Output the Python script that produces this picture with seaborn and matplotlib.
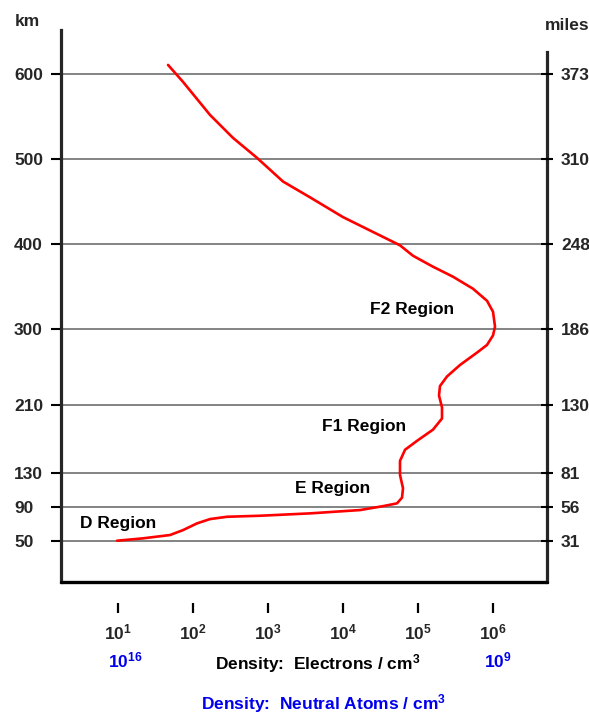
import numpy as np
import pandas as pd
import matplotlib
matplotlib.use("Agg")
import matplotlib.pyplot as plt
import matplotlib.transforms as mtransforms
import seaborn as sns

# Electron density profile of the ionosphere: log10(electrons / cm^3) against altitude (km)
log_density = [0.987, 1.333, 1.693, 1.867, 2.053, 2.227, 2.453, 2.893, 3.56, 4.227,
               4.533, 4.72, 4.787, 4.8, 4.76, 4.76, 4.827, 4.987, 5.2, 5.32, 5.32,
               5.28, 5.293, 5.387, 5.56, 5.787, 5.92, 6.0, 6.027, 6.0, 5.92, 5.733,
               5.467, 5.2, 4.933, 4.76, 4.453, 4.0, 3.56, 3.2, 2.853, 2.533, 2.227,
               1.867, 1.667]
altitude_km = [50.4, 53.2, 57.1, 62.9, 70.8, 75.9, 78.6, 79.8, 82.6, 86.5, 91.1, 94.4,
               101.1, 112.2, 127.8, 144.4, 157.5, 168.0, 181.2, 194.3, 207.4, 221.3,
               232.5, 243.8, 257.3, 271.9, 280.9, 292.1, 302.4, 320.0, 332.9, 347.1,
               361.2, 373.0, 385.9, 398.2, 411.6, 431.4, 454.7, 473.3, 501.2, 524.7,
               551.7, 590.6, 610.6]

km_ticks = [50, 90, 130, 210, 300, 400, 500, 600]
mile_labels = ["31", "56", "81", "130", "186", "248", "310", "373"]
x_ticks = [1e1, 1e2, 1e3, 1e4, 1e5, 1e6]
x_labels = [r"$\mathbf{10^{1}}$", r"$\mathbf{10^{2}}$", r"$\mathbf{10^{3}}$",
            r"$\mathbf{10^{4}}$", r"$\mathbf{10^{5}}$", r"$\mathbf{10^{6}}$"]

regions = ["D Region", "E Region", "F1 Region", "F2 Region"]
region_logx = [0.493, 3.36, 3.72, 4.36]
region_km = [71.2, 112.2, 185.1, 322.3]

sns.set_style("white")
family = "Liberation Sans"
plt.rcParams["font.family"] = [family, "DejaVu Sans"]
plt.rcParams["font.weight"] = "bold"
plt.rcParams["mathtext.fontset"] = "custom"
plt.rcParams["mathtext.rm"] = family + ":bold"
plt.rcParams["mathtext.bf"] = family + ":bold"
plt.rcParams["mathtext.it"] = family + ":bold"
fs = 12.5

fig = plt.figure(figsize=(5.89, 7.19), dpi=100)
ax = fig.add_axes([61/589, 1 - 582/719, (547-61)/589, (582-30)/719])

df = pd.DataFrame({"density": np.power(10.0, log_density), "altitude": altitude_km})
sns.lineplot(data=df, x="density", y="altitude", sort=False, estimator=None,
             color="#ff0000", linewidth=1.9, ax=ax, zorder=5)
for ln in ax.get_lines():
    ln.set_solid_joinstyle("round")
    ln.set_solid_capstyle("round")

ax.set_xscale("log")
ax.set_xlim(10**0.24, 10**6.72)
ax.set_ylim(1.8, 651.7)
ax.set_xlabel("")
ax.set_ylabel("")

for k in km_ticks:
    ax.axhline(k, color="#7a7a7a", linewidth=1.3, zorder=1)

# frame: thick left and right spines, no top, bottom edge drawn as a line
ax.spines["top"].set_visible(False)
ax.spines["left"].set_linewidth(2.3)
ax.spines["right"].set_linewidth(2.3)
ax.spines["right"].set_bounds(1.8, 625.9)
ax.spines["bottom"].set_position(("outward", 15))
ax.spines["bottom"].set_visible(False)
ax.axhline(1.8, color="black", linewidth=2.4, clip_on=False, zorder=6)

ax.set_xticks(x_ticks)
ax.set_xticklabels(x_labels)
ax.xaxis.set_minor_locator(matplotlib.ticker.NullLocator())
ax.tick_params(axis="x", bottom=True, direction="out", length=7.2, width=1.6,
               color="black", pad=7, labelsize=fs)

ax.set_yticks(km_ticks)
ax.set_yticklabels([str(k) for k in km_ticks])
ax.tick_params(axis="y", direction="out", length=7.2, width=1.5, color="black",
               pad=26.6, labelsize=fs, left=True)
for lab in ax.get_yticklabels():
    lab.set_horizontalalignment("left")

axr = ax.twinx()
axr.set_ylim(ax.get_ylim())
axr.set_yticks(km_ticks)
axr.set_yticklabels(mile_labels)
axr.tick_params(axis="y", right=True, direction="inout", length=8, width=1.5,
                color="black", pad=6, labelsize=fs)
for s in axr.spines.values():
    s.set_visible(False)

for name, rx, rk in zip(regions, region_logx, region_km):
    ax.text(10**rx, rk, name, ha="left", va="center", fontsize=fs, fontweight="bold",
            color="black", zorder=7)

fig.text(15/589, 1 - 21/719, "km", ha="left", va="center", fontsize=fs, fontweight="bold")
fig.text(545/589, 1 - 26/719, "miles", ha="left", va="center", fontsize=fs,
         fontweight="bold")

blue = "#0000ee"
tr = mtransforms.blended_transform_factory(ax.transData, fig.transFigure)
ax.text(10**0.867, 1 - 660/719, r"$\mathbf{10^{16}}$", transform=tr, ha="left",
        va="center", fontsize=fs, color=blue)
ax.text(10**5.88, 1 - 660/719, r"$\mathbf{10^{9}}$", transform=tr, ha="left",
        va="center", fontsize=fs, color=blue)

fig.text(318/589, 1 - 664/719, r"Density:  Electrons / cm$^{\mathbf{3}}$", ha="center",
         va="center", fontsize=fs, fontweight="bold", color="black")
fig.text(323/589, 1 - 704/719, r"Density:  Neutral Atoms / cm$^{\mathbf{3}}$",
         ha="center", va="center", fontsize=fs, fontweight="bold", color=blue)

fig.savefig("out.png", dpi=100)
